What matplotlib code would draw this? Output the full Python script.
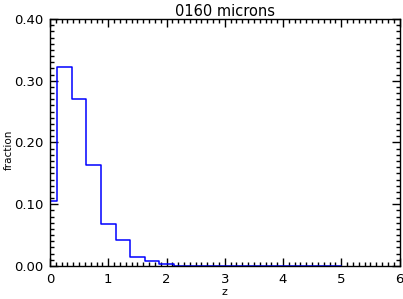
import numpy as np
import matplotlib
matplotlib.use("Agg")
import matplotlib.pyplot as plt
from matplotlib.ticker import MultipleLocator, FormatStrFormatter

# histogram of z (bin centres, 0.25 wide) and fraction per bin
z = [0.0, 0.25, 0.5, 0.75, 1.0, 1.25, 1.5, 1.75, 2.0, 2.25, 2.5, 2.75,
     3.0, 3.25, 3.5, 3.75, 4.0, 4.25, 4.5, 4.75, 5.0]
fraction = [0.106, 0.323, 0.270, 0.163, 0.068, 0.042, 0.014, 0.008, 0.003, 0.0, 0.0, 0.0,
            0.0, 0.0, 0.0, 0.0, 0.0, 0.0, 0.0, 0.0, 0.0]

plt.rcParams['font.family'] = ['DejaVu Sans']

fig = plt.figure(figsize=(4.03, 2.99), dpi=100)
ax = fig.add_axes([50 / 403, 33 / 299, 349.5 / 403, 247 / 299])

# IDL psym=10 style: steps at the midpoints, no extension past the ends
ax.step(z, fraction, where='mid', color='#0000ff', lw=1.1)

ax.set_xlim(0, 6)
ax.set_ylim(0, 0.4)
ax.xaxis.set_major_locator(MultipleLocator(1))
ax.xaxis.set_minor_locator(MultipleLocator(0.1))
ax.yaxis.set_major_locator(MultipleLocator(0.1))
ax.yaxis.set_minor_locator(MultipleLocator(0.01))
ax.yaxis.set_major_formatter(FormatStrFormatter('%.2f'))

ax.tick_params(which='both', direction='in', top=True, right=True, width=1,
               labelsize=9.5, colors='black')
ax.tick_params(which='major', length=6, pad=5)
ax.tick_params(which='minor', length=3)
for s in ax.spines.values():
    s.set_linewidth(1)

ax.set_title('0160 microns', fontsize=10.5, pad=2)
ax.set_xlabel('z', fontsize=8, labelpad=1)
fig.text(9 / 403, 0.5, 'fraction', rotation=90, ha='center', va='center', fontsize=7.5)

fig.savefig('out.png', dpi=100)
